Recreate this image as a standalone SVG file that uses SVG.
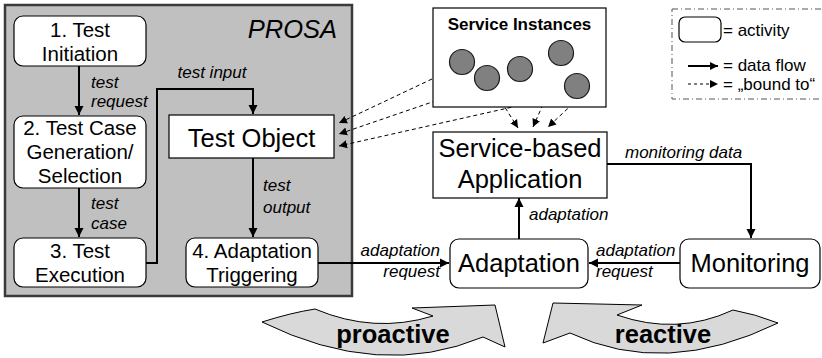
<svg xmlns="http://www.w3.org/2000/svg" width="822" height="358" viewBox="0 0 822 358">
  <defs>
    <marker id="arrow" markerUnits="userSpaceOnUse" markerWidth="10" markerHeight="10" refX="9" refY="5" orient="auto">
      <path d="M0,0.5 L9,5 L0,9.5 Z" fill="#000"/>
    </marker>
    <marker id="arrowSmall" markerUnits="userSpaceOnUse" markerWidth="9" markerHeight="9" refX="8" refY="4.5" orient="auto">
      <path d="M0,0.5 L8,4.5 L0,8.5 Z" fill="#000"/>
    </marker>
    <style>
      .activity { fill: #fff; stroke: #000; stroke-width: 1.2; }
      .box { fill: #fff; stroke: #000; stroke-width: 1.2; }
      .node { font-family: "Liberation Sans", Arial, sans-serif; font-size: 20.5px; fill: #000; text-anchor: middle; }
      .big { font-family: "Liberation Sans", Arial, sans-serif; font-size: 25.5px; fill: #000; text-anchor: middle; }
      .lbl { font-family: "Liberation Sans", Arial, sans-serif; font-size: 17px; font-style: italic; fill: #000; }
      .flow { fill: none; stroke: #000; stroke-width: 2; marker-end: url(#arrow); }
      .bound { fill: none; stroke: #000; stroke-width: 1; stroke-dasharray: 4 3; marker-end: url(#arrowSmall); }
      .inst { fill: #808080; stroke: #1a1a1a; stroke-width: 1.2; }
      .sweep { fill: #d9d9d9; stroke: #000; stroke-width: 1; }
      .sweepText { font-family: "Liberation Sans", Arial, sans-serif; font-size: 25.5px; font-weight: bold; fill: #000; text-anchor: middle; }
      .legend { font-family: "Liberation Sans", Arial, sans-serif; font-size: 17px; fill: #000; }
    </style>
  </defs>

  <!-- PROSA test framework container -->
  <g id="prosa">
    <rect x="5" y="5" width="347" height="291" fill="#c0c0c0" stroke="#3a3a3a" stroke-width="2.5"/>
    <text x="337" y="38" text-anchor="end" font-family="Liberation Sans, Arial, sans-serif" font-size="25.5" font-style="italic">PROSA</text>
  </g>

  <!-- Connectors -->
  <g id="connectors">
    <path class="flow" d="M79,66 V115"/>
    <path class="flow" d="M79,188 V237"/>
    <path class="flow" d="M146,263 H157 V89 H253 V114"/>
    <path class="flow" d="M253,158 V237"/>
    <path class="flow" d="M318,263 H449"/>
    <path class="flow" d="M680,263 H589"/>
    <path class="flow" d="M519,239 V198"/>
    <path class="flow" d="M607,164 H751 V238"/>

    <path class="bound" d="M451,70 L339,123"/>
    <path class="bound" d="M476,87 L339,134"/>
    <path class="bound" d="M566,95 L339,146"/>
    <path class="bound" d="M494,90 L518,128"/>
    <path class="bound" d="M560,66 L533,127"/>
    <path class="bound" d="M578,99 L548,127"/>

    <text class="lbl" x="91" y="88">test</text>
    <text class="lbl" x="91" y="107">request</text>
    <text class="lbl" x="91" y="209">test</text>
    <text class="lbl" x="91" y="229">case</text>
    <text class="lbl" x="212" y="78" text-anchor="middle">test input</text>
    <text class="lbl" x="263" y="191">test</text>
    <text class="lbl" x="263" y="213">output</text>
    <text class="lbl" x="440" y="256" text-anchor="end">adaptation</text>
    <text class="lbl" x="440" y="277" text-anchor="end">request</text>
    <text class="lbl" x="596" y="256">adaptation</text>
    <text class="lbl" x="596" y="277">request</text>
    <text class="lbl" x="529" y="220">adaptation</text>
    <text class="lbl" x="625" y="158">monitoring data</text>
  </g>

  <g id="test-initiation">
    <rect class="activity" x="14" y="16" width="132" height="50" rx="9"/>
    <text class="node" x="80" y="37">1. Test</text>
    <text class="node" x="80" y="61">Initiation</text>
  </g>

  <g id="test-case-generation">
    <rect class="activity" x="14" y="116" width="132" height="72" rx="9"/>
    <text class="node" x="80" y="135">2. Test Case</text>
    <text class="node" x="80" y="159">Generation/</text>
    <text class="node" x="80" y="183">Selection</text>
  </g>

  <g id="test-execution">
    <rect class="activity" x="14" y="238" width="132" height="49" rx="9"/>
    <text class="node" x="80" y="258">3. Test</text>
    <text class="node" x="80" y="282">Execution</text>
  </g>

  <g id="adaptation-triggering">
    <rect class="activity" x="186" y="238" width="132" height="49" rx="9"/>
    <text class="node" x="252" y="258">4. Adaptation</text>
    <text class="node" x="252" y="282">Triggering</text>
  </g>

  <g id="test-object">
    <rect class="box" x="169" y="115" width="165" height="43"/>
    <text class="big" x="251.5" y="147">Test Object</text>
  </g>

  <g id="service-instances">
    <rect class="box" x="433" y="8" width="173" height="99"/>
    <text x="519.5" y="30" text-anchor="middle" font-family="Liberation Sans, Arial, sans-serif" font-size="17" font-weight="bold">Service Instances</text>
    <circle class="inst" cx="462" cy="62" r="12.5"/>
    <circle class="inst" cx="487" cy="78" r="12.5"/>
    <circle class="inst" cx="520" cy="69" r="12.5"/>
    <circle class="inst" cx="561" cy="53" r="12.5"/>
    <circle class="inst" cx="577" cy="86" r="12.5"/>
  </g>

  <g id="service-based-application">
    <rect class="box" x="433" y="132" width="174" height="66"/>
    <text class="big" x="520" y="157">Service-based</text>
    <text class="big" x="520" y="188">Application</text>
  </g>

  <g id="adaptation">
    <rect class="activity" x="450" y="239" width="138" height="49" rx="9"/>
    <text class="big" x="519" y="272">Adaptation</text>
  </g>

  <g id="monitoring">
    <rect class="activity" x="680" y="239" width="140" height="49" rx="9"/>
    <text class="big" x="750" y="272">Monitoring</text>
  </g>

  <g id="proactive">
    <path class="sweep" d="M262,322 Q290,313 315,309 Q374,334 433,316 L412,308 L495,305 L505,347 L483,337 Q380,380 262,322 Z"/>
    <text class="sweepText" x="393" y="343">proactive</text>
  </g>

  <g id="reactive">
    <path class="sweep" d="M778,323 Q755,314 733,310 Q677,336 617,315 L642,305 L553,303 L543,343 L570,333 Q665,378 778,323 Z"/>
    <text class="sweepText" x="663" y="343">reactive</text>
  </g>

  <g id="legend">
    <rect x="672" y="9" width="152" height="90" fill="none" stroke="#555" stroke-width="1" stroke-dasharray="6 3 1 3"/>
    <rect x="679" y="17" width="42" height="25" rx="6" fill="#fff" stroke="#000" stroke-width="1.2"/>
    <text class="legend" x="723" y="36">= activity</text>
    <path d="M688,66 H718" fill="none" stroke="#000" stroke-width="2" marker-end="url(#arrowSmall)"/>
    <text class="legend" x="723" y="71">= data flow</text>
    <path d="M688,84 H718" fill="none" stroke="#000" stroke-width="1" stroke-dasharray="3 3" marker-end="url(#arrowSmall)"/>
    <text class="legend" x="723" y="90">= „bound to“</text>
  </g>
</svg>
